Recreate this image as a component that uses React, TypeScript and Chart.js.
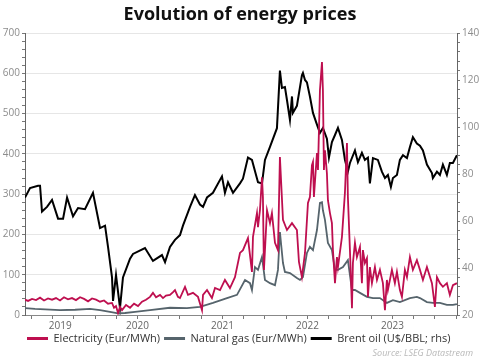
import React, { useEffect, useRef } from 'react';
import { Chart, registerables } from 'chart.js';

Chart.register(...registerables);

const TITLE = 'Evolution of energy prices';
const SOURCE = 'Source: LSEG Datastream';
const seriesNames = ['Electricity (Eur/MWh)', 'Natural gas (Eur/MWh)', 'Brent oil (U$/BBL; rhs)'];
const seriesColors = ['#be0f4f', '#56646c', '#000000'];

// dates as decimal years
const elecDates = [
  2019.176, 2019.212, 2019.259, 2019.306, 2019.353, 2019.4, 2019.447, 2019.494, 2019.541, 2019.588,
  2019.635, 2019.682, 2019.729, 2019.776, 2019.824, 2019.871, 2019.918, 2019.965, 2020.012, 2020.059,
  2020.106, 2020.153, 2020.2, 2020.224, 2020.247, 2020.271, 2020.294, 2020.318, 2020.365, 2020.412,
  2020.459, 2020.506, 2020.553, 2020.6, 2020.647, 2020.682, 2020.718, 2020.765, 2020.8, 2020.835,
  2020.882, 2020.918, 2020.941, 2020.976, 2021.0, 2021.059, 2021.094, 2021.153, 2021.212, 2021.259,
  2021.271, 2021.318, 2021.376, 2021.412, 2021.471, 2021.529, 2021.588, 2021.647, 2021.706, 2021.741,
  2021.8, 2021.847, 2021.859, 2021.906, 2021.918, 2021.941, 2021.965, 2021.976, 2021.988, 2022.024,
  2022.059, 2022.082, 2022.118, 2022.153, 2022.176, 2022.212, 2022.259, 2022.318, 2022.376, 2022.4,
  2022.435, 2022.471, 2022.506, 2022.529, 2022.553, 2022.565, 2022.576, 2022.612, 2022.624, 2022.647,
  2022.671, 2022.682, 2022.694, 2022.706, 2022.729, 2022.741, 2022.765, 2022.788, 2022.8, 2022.824,
  2022.847, 2022.859, 2022.906, 2022.941, 2022.965, 2022.976, 2023.0, 2023.024, 2023.035, 2023.059,
  2023.082, 2023.118, 2023.141, 2023.153, 2023.176, 2023.2, 2023.212, 2023.235, 2023.259, 2023.294,
  2023.318, 2023.353, 2023.388, 2023.412, 2023.435, 2023.447, 2023.494, 2023.529, 2023.553, 2023.588,
  2023.612, 2023.647, 2023.671, 2023.706, 2023.741, 2023.788, 2023.824, 2023.859, 2023.906, 2023.965,
  2024.0, 2024.024, 2024.059, 2024.094, 2024.141, 2024.176, 2024.212, 2024.259,
];
const elecValues = [
  38, 35, 40, 37, 43, 36, 41, 38, 42, 36,
  44, 39, 42, 37, 44, 40, 34, 41, 38, 33,
  36, 28, 30, 18, 22, 5, 20, 12, 25, 18,
  28, 22, 33, 38, 45, 55, 44, 50, 42, 48,
  50, 57, 62, 45, 42, 70, 50, 55, 45, 12,
  50, 62, 42, 67, 62, 87, 67, 94, 154, 161,
  191, 107, 194, 253, 218, 260, 342, 293, 112, 260,
  228, 253, 179, 161, 392, 236, 211, 228, 211, 132,
  94, 154, 278, 293, 372, 380, 293, 402, 360, 558,
  628, 558, 360, 409, 352, 285, 253, 228, 161, 79,
  144, 119, 194, 303, 427, 293, 161, 17, 129, 179,
  144, 169, 79, 161, 129, 141, 45, 119, 79, 119,
  87, 112, 79, 12, 87, 62, 112, 79, 107, 62,
  45, 112, 94, 144, 112, 136, 112, 87, 119, 79,
  20, 94, 79, 70, 79, 50, 74, 79,
];

const gasDates = [
  2019.176, 2019.294, 2019.412, 2019.588, 2019.765, 2019.941, 2020.059, 2020.176, 2020.271, 2020.353,
  2020.471, 2020.647, 2020.882, 2021.082, 2021.235, 2021.388, 2021.553, 2021.671, 2021.765, 2021.824,
  2021.847, 2021.882, 2021.918, 2021.965, 2022.0, 2022.059, 2022.118, 2022.153, 2022.176, 2022.212,
  2022.235, 2022.294, 2022.376, 2022.412, 2022.447, 2022.494, 2022.529, 2022.565, 2022.612, 2022.647,
  2022.671, 2022.682, 2022.706, 2022.741, 2022.788, 2022.824, 2022.859, 2022.918, 2022.976, 2023.024,
  2023.059, 2023.118, 2023.2, 2023.271, 2023.353, 2023.435, 2023.506, 2023.588, 2023.706, 2023.788,
  2023.824, 2023.906, 2023.976, 2024.059, 2024.141, 2024.212, 2024.259,
];
const gasValues = [
  17, 15, 14, 12, 13, 15, 12, 8, 4, 5,
  8, 12, 18, 17, 20, 30, 42, 50, 87, 79,
  62, 119, 112, 144, 87, 79, 74, 112, 206, 129,
  107, 104, 92, 87, 94, 154, 169, 161, 211, 278,
  280, 260, 236, 179, 161, 112, 112, 119, 136, 62,
  62, 55, 45, 42, 42, 30, 37, 32, 42, 45,
  42, 32, 30, 30, 25, 25, 27,
];

const brentDates = [
  2019.176, 2019.235, 2019.329, 2019.353, 2019.376, 2019.435, 2019.494, 2019.565, 2019.624, 2019.671,
  2019.741, 2019.8, 2019.882, 2019.976, 2020.059, 2020.118, 2020.153, 2020.2, 2020.212, 2020.247,
  2020.294, 2020.329, 2020.412, 2020.447, 2020.588, 2020.682, 2020.788, 2020.824, 2020.882, 2020.941,
  2021.0, 2021.035, 2021.118, 2021.176, 2021.235, 2021.271, 2021.318, 2021.388, 2021.494, 2021.529,
  2021.565, 2021.624, 2021.706, 2021.741, 2021.8, 2021.847, 2021.918, 2021.965, 2022.0, 2022.059,
  2022.141, 2022.176, 2022.2, 2022.235, 2022.259, 2022.294, 2022.318, 2022.329, 2022.376, 2022.435,
  2022.447, 2022.471, 2022.494, 2022.529, 2022.565, 2022.612, 2022.647, 2022.682, 2022.729, 2022.753,
  2022.788, 2022.824, 2022.859, 2022.906, 2022.941, 2022.976, 2023.0, 2023.059, 2023.094, 2023.141,
  2023.176, 2023.212, 2023.235, 2023.271, 2023.329, 2023.376, 2023.412, 2023.447, 2023.482, 2023.506,
  2023.553, 2023.588, 2023.624, 2023.671, 2023.706, 2023.741, 2023.788, 2023.824, 2023.859, 2023.906,
  2023.965, 2023.976, 2024.024, 2024.059, 2024.094, 2024.141, 2024.176, 2024.212, 2024.259,
];
const brentValues = [
  70, 74, 75, 75, 64, 66, 69, 61, 61, 70,
  62, 65.5, 65, 72, 57, 58, 49, 36, 26, 37,
  23, 36, 44, 46, 48.5, 43, 45.5, 42.5, 49, 52,
  54, 58, 66, 71, 67, 66, 70, 72, 79, 72,
  76.5, 72, 76, 78, 87, 86, 76.5, 76, 86, 91.5,
  99.5, 124, 116.6, 117, 111.5, 103, 113, 106, 109, 122,
  123, 120, 119, 113, 106, 101, 97.5, 99.6, 95, 87,
  93.6, 96.6, 99.6, 94.5, 86, 81, 84.7, 90, 85, 89,
  86, 87, 76, 86.8, 86, 81, 78.3, 79.6, 74.5, 78.3,
  79.6, 86, 88, 86.8, 91.5, 95.7, 93, 92, 90, 84,
  80.4, 78.3, 81, 79.6, 84, 79.6, 84.7, 84.7, 88,
];

const xMin = 2019.176;
const xMax = 2024.26;
const quarterTicks = [
  2019.25, 2019.5, 2019.75, 2020, 2020.25, 2020.5, 2020.75, 2021, 2021.25, 2021.5, 2021.75,
  2022, 2022.25, 2022.5, 2022.75, 2023, 2023.25, 2023.5, 2023.75, 2024, 2024.25,
];
const yearLabels = ['2019', '2020', '2021', '2022', '2023'];
const yearLabelPositions = [2019.59, 2020.5, 2021.5, 2022.5, 2023.5];

const leftMin = 0, leftMax = 700, leftMinorStep = 20, leftMajorStep = 100;
const rightMin = 20, rightMax = 140, rightMinorStep = 4, rightMajorStep = 20;

const near = (a: number, b: number) => Math.abs(a - b) < 1e-6;

const sourcePlugin = {
  id: 'sourceNote',
  afterLayout(chart: any) {
    if (chart.legend) {
      chart.legend.left = 23;
    }
  },
  afterDraw(chart: any) {
    const ctx = chart.ctx;
    ctx.save();
    ctx.font = 'italic 9px "Open Sans"';
    ctx.fillStyle = '#b8b8b8';
    ctx.textAlign = 'right';
    ctx.textBaseline = 'middle';
    ctx.fillText(SOURCE, 473, 353);
    ctx.restore();
  },
};

export default function App() {
  const ref = useRef<HTMLCanvasElement>(null);
  useEffect(() => {
    document.body.style.margin = '0';
    const toPts = (xs: number[], ys: number[]) => xs.map((x, i) => ({ x, y: ys[i] }));
    const xTickValues = Array.from(new Set([...quarterTicks, ...yearLabelPositions])).sort((a, b) => a - b);
    const leftTicks: number[] = [];
    for (let v = leftMin; v <= leftMax; v += leftMinorStep) leftTicks.push(v);
    const rightTicks: number[] = [];
    for (let v = rightMin; v <= rightMax; v += rightMinorStep) rightTicks.push(v);
    const tickFont = { family: 'Open Sans', size: 10 };

    const chart = new Chart(ref.current!, {
      type: 'line',
      data: {
        datasets: [
          { label: seriesNames[0], data: toPts(elecDates, elecValues), borderColor: seriesColors[0], backgroundColor: seriesColors[0], borderWidth: 1.8, pointRadius: 0, yAxisID: 'y' },
          { label: seriesNames[1], data: toPts(gasDates, gasValues), borderColor: seriesColors[1], backgroundColor: seriesColors[1], borderWidth: 1.8, pointRadius: 0, yAxisID: 'y' },
          { label: seriesNames[2], data: toPts(brentDates, brentValues), borderColor: seriesColors[2], backgroundColor: seriesColors[2], borderWidth: 2, pointRadius: 0, yAxisID: 'y1' },
        ],
      },
      plugins: [sourcePlugin],
      options: {
        responsive: false,
        animation: false,
        layout: { padding: { left: 0, right: 0, top: 0, bottom: 6 } },
        plugins: {
          title: {
            display: true,
            text: TITLE,
            color: '#111',
            font: { family: 'Open Sans', size: 18, weight: 'bold' },
            padding: { top: 4, bottom: 7.4 },
          },
          legend: {
            display: true,
            position: 'bottom',
            align: 'start',
            labels: {
              boxWidth: 21,
              boxHeight: 3,
              padding: 4,
              color: '#333',
              font: { family: 'Open Sans', size: 11 },
              generateLabels: (c: any) =>
                Chart.defaults.plugins.legend.labels.generateLabels(c).map((l: any) => ({ ...l, lineWidth: 0, fillStyle: l.strokeStyle })),
            },
          },
          tooltip: { enabled: false },
        },
        scales: {
          x: {
            type: 'linear',
            min: xMin,
            max: xMax,
            afterBuildTicks: (s: any) => { s.ticks = xTickValues.map((value) => ({ value })); },
            afterFit: (s: any) => { s.height = 14; },
            ticks: {
              autoSkip: false,
              maxRotation: 0,
              padding: 1,
              color: '#666',
              font: tickFont,
              callback: (v: any) => {
                const idx = yearLabelPositions.findIndex((p) => near(p, Number(v)));
                return idx >= 0 ? yearLabels[idx] : '';
              },
            },
            grid: {
              drawOnChartArea: false,
              tickLength: 4,
              tickColor: (ctx: any) => (ctx.tick && quarterTicks.some((q) => near(q, ctx.tick.value)) ? '#777' : 'rgba(0,0,0,0)'),
            },
            border: { color: '#888', width: 1 },
          },
          y: {
            type: 'linear',
            position: 'left',
            min: leftMin,
            max: leftMax,
            afterBuildTicks: (s: any) => { s.ticks = leftTicks.map((value) => ({ value })); },
            afterFit: (s: any) => { s.width = 25; },
            ticks: {
              autoSkip: false,
              padding: 2,
              color: '#8c8c8c',
              font: tickFont,
              callback: (v: any) => (Number(v) % leftMajorStep === 0 ? String(v) : ''),
            },
            grid: {
              tickLength: 3,
              color: (ctx: any) => (ctx.tick && ctx.tick.value % leftMajorStep === 0 && ctx.tick.value > 0 ? '#e6e6e6' : 'rgba(0,0,0,0)'),
              tickColor: '#777',
            },
            border: { color: '#666', width: 1 },
          },
          y1: {
            type: 'linear',
            position: 'right',
            min: rightMin,
            max: rightMax,
            afterBuildTicks: (s: any) => { s.ticks = rightTicks.map((value) => ({ value })); },
            afterFit: (s: any) => { s.width = 23; },
            ticks: {
              autoSkip: false,
              padding: 2,
              color: '#8c8c8c',
              font: tickFont,
              callback: (v: any) => (Number(v) % rightMajorStep === 0 ? String(v) : ''),
            },
            grid: { drawOnChartArea: false, tickLength: 3, tickColor: '#777' },
            border: { color: '#666', width: 1 },
          },
        },
      },
    } as any);
    return () => chart.destroy();
  }, []);
  return (
    <div style={{ position: 'absolute', left: 0, top: 0, width: 480, height: 360, background: '#fff' }}>
      <canvas ref={ref} width={480} height={360} style={{ display: 'block' }} />
    </div>
  );
}
